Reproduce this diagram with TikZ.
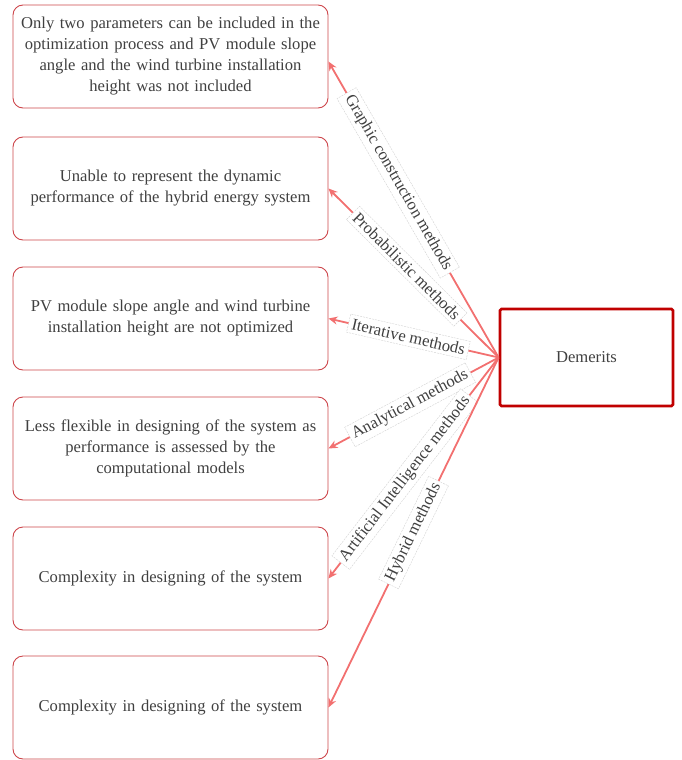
\documentclass[tikz,border=0pt]{standalone}
\usepackage{fontspec}
\setmainfont{Liberation Serif}
\usetikzlibrary{arrows.meta,calc}
\definecolor{boxred}{RGB}{205,70,75}
\definecolor{mainred}{RGB}{192,0,0}
\definecolor{linkred}{RGB}{242,112,112}
\definecolor{txt}{RGB}{64,64,64}
\tikzset{
  x=1pt, y=-1pt,
  every node/.style={text=txt, font=\fontsize{16.6}{21}\selectfont},
  item/.style={draw=boxred, line width=0.9pt, rounded corners=10pt, minimum width=315pt,
    minimum height=103pt, text width=312pt, align=center, inner sep=0pt},
  hub/.style={draw=mainred, line width=2.8pt, rounded corners=1.5pt, minimum width=173pt,
    minimum height=97pt},
  link/.style={draw=linkred, line width=1.8pt, -{Stealth[length=9pt,width=8pt]}},
  tag/.style={fill=white, draw=gray!35, dashed, dash pattern=on 2pt off 1pt, line width=0.4pt,
    sloped, inner sep=3.5pt, font=\fontsize{16.6}{18}\selectfont}
}
\begin{document}
\begin{tikzpicture}
\useasboundingbox (0,0) rectangle (681,760);

\node[item] (b1) at (170.5,56.5) {Only two parameters can be included in the\\ optimization process and PV module slope\\ angle and the wind turbine installation\\ height was not included};
\node[item] (b2) at (170.5,188.5) {Unable to represent the dynamic\\ performance of the hybrid energy system};
\node[item] (b3) at (170.5,318.5) {PV module slope angle and wind turbine\\ installation height are not optimized};
\node[item] (b4) at (170.5,448.5) {Less flexible in designing of the system as\\ performance is assessed by the\\ computational models};
\node[item] (b5) at (170.5,578.5) {Complexity in designing of the system};
\node[item] (b6) at (170.5,707.5) {Complexity in designing of the system};

\node[hub] (d) at (586.5,357.5) {Demerits};

\draw[link] (d.west) -- node[tag, pos=0.59] {Graphic construction methods} ($(b1.east)+(0,5)$);
\draw[link] (d.west) -- node[tag, pos=0.54] {Probabilistic methods} (b2.east);
\draw[link] (d.west) -- node[tag, pos=0.53] {Iterative methods} (b3.east);
\draw[link] (d.west) -- node[tag, pos=0.52] {Analytical methods} (b4.east);
\draw[link] (d.west) -- node[tag, pos=0.55] {Artificial Intelligence methods} (b5.east);
\draw[link] (d.west) -- node[tag, pos=0.5] {Hybrid methods} (b6.east);
\end{tikzpicture}
\end{document}
